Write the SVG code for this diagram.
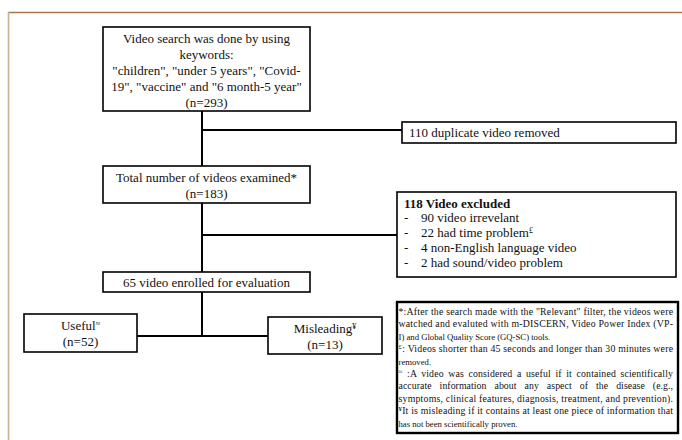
<svg xmlns="http://www.w3.org/2000/svg" width="682" height="440" viewBox="0 0 682 440">
<style>
.bx{fill:#fff;stroke:#000;stroke-width:1.6}
.fn{fill:#fff;stroke:#000;stroke-width:2.4}
.ln{stroke:#000;stroke-width:2;fill:none}
text{font-family:"Liberation Serif","Times New Roman",serif;fill:#111}
.t{font-size:13px}
.c{text-anchor:middle}
.f{font-size:9.8px}
.fs{font-size:8.7px}
.sup{font-size:8px}
.fsup{font-size:7px}
</style>
<rect width="682" height="440" fill="#fff"/>
<g id="frame">
<line x1="8" y1="12.5" x2="682" y2="12.5" stroke="#a57a52" stroke-width="1.6"/>
<line x1="8.5" y1="12" x2="8.5" y2="440" stroke="#c9ae90" stroke-width="1.6"/>
</g>
<g id="connectors">
<line class="ln" x1="202" y1="111" x2="202" y2="166"/>
<line class="ln" x1="202" y1="130" x2="402" y2="130"/>
<line class="ln" x1="202" y1="203" x2="202" y2="272"/>
<line class="ln" x1="202" y1="235" x2="397" y2="235"/>
<line class="ln" x1="202" y1="292" x2="202" y2="336"/>
<line class="ln" x1="137" y1="336" x2="268" y2="336"/>
</g>
<g id="search">
<rect class="bx" x="103" y="27" width="207" height="84"/>
<text class="t c" x="206.5" y="43">Video search was done by using</text>
<text class="t c" x="206.5" y="59">keywords:</text>
<text class="t c" x="206.5" y="75">"children", "under 5 years", "Covid-</text>
<text class="t c" x="206.5" y="91">19", "vaccine" and "6 month-5 year"</text>
<text class="t c" x="206.5" y="107">(n=293)</text>
</g>
<g id="duplicate">
<rect class="bx" x="402" y="122" width="274" height="21"/>
<text class="t" x="409" y="137">110 duplicate video removed</text>
</g>
<g id="total">
<rect class="bx" x="103" y="166" width="207" height="37"/>
<text class="t c" x="206.5" y="182">Total number of videos examined*</text>
<text class="t c" x="206.5" y="198">(n=183)</text>
</g>
<g id="excluded">
<rect class="bx" x="397" y="192" width="279" height="85"/>
<text class="t" x="404" y="208" font-weight="bold">118 Video excluded</text>
<text class="t" x="404" y="222">-</text><text class="t" x="421" y="222">90 video irrevelant</text>
<text class="t" x="404" y="237">-</text><text class="t" x="421" y="237">22 had time problem<tspan class="sup" dy="-4">£</tspan></text>
<text class="t" x="404" y="252">-</text><text class="t" x="421" y="252">4 non-English language video</text>
<text class="t" x="404" y="267">-</text><text class="t" x="421" y="267">2 had sound/video problem</text>
</g>
<g id="enrolled">
<rect class="bx" x="103" y="272" width="207" height="20"/>
<text class="t c" x="206.5" y="287">65 video enrolled for evaluation</text>
</g>
<g id="useful">
<rect class="bx" x="24" y="314" width="113" height="38"/>
<text class="t c" x="80.5" y="330">Useful<tspan class="sup" dy="-4">≈</tspan></text>
<text class="t c" x="80.5" y="346">(n=52)</text>
</g>
<g id="misleading">
<rect class="bx" x="268" y="317" width="114" height="37"/>
<text class="t c" x="325" y="333">Misleading<tspan class="sup" dy="-4">¥</tspan></text>
<text class="t c" x="325" y="349">(n=13)</text>
</g>
<g id="notes">
<rect class="fn" x="397" y="302" width="281" height="131"/>
<text class="f" x="398.5" y="315" textLength="274.5" lengthAdjust="spacing">*:After the search made with the "Relevant" filter, the videos were</text>
<text class="f" x="398.5" y="327.4" textLength="274.5" lengthAdjust="spacing">watched and evaluted  with m-DISCERN, Video Power Index (VP-</text>
<text class="fs" x="398.5" y="339.8">I) and Global Quality Score (GQ-SC) tools.</text>
<text class="f" x="398.5" y="352.2" textLength="274.5" lengthAdjust="spacing"><tspan class="fsup" dy="-3">£</tspan><tspan dy="3">: Videos shorter than 45 seconds and longer than 30 minutes were</tspan></text>
<text class="fs" x="398.5" y="364.6">removed.</text>
<text class="f" x="398.5" y="377" textLength="274.5" lengthAdjust="spacing" word-spacing="2"><tspan class="fsup" dy="-3">≈</tspan><tspan dy="3"> :A video was considered a useful if it contained scientifically</tspan></text>
<text class="f" x="398.5" y="389.4" textLength="274.5" lengthAdjust="spacing" word-spacing="5.5">accurate information about any aspect of the disease (e.g.,</text>
<text class="f" x="398.5" y="401.8" textLength="274.5" lengthAdjust="spacing">symptoms, clinical features, diagnosis, treatment, and prevention).</text>
<text class="f" x="398.5" y="414.2" textLength="274.5" lengthAdjust="spacing"><tspan class="fsup" dy="-3">¥</tspan><tspan dy="3">It is misleading if it contains at least one piece of information that</tspan></text>
<text class="fs" x="398.5" y="426.6">has not been scientifically proven.</text>
</g>
</svg>
